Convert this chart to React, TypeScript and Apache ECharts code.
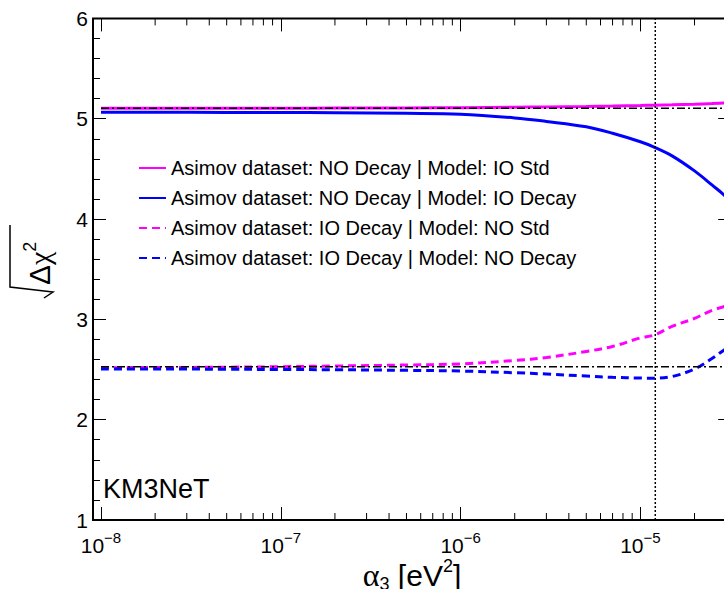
import React, { useEffect, useRef } from 'react';
import * as echarts from 'echarts';

// ---- data ----
const alpha = [1e-8, 2e-8, 5e-8, 1e-7, 2e-7, 5e-7, 1e-6, 2e-6, 3e-6, 5e-6, 7e-6, 1e-5, 1.2e-5, 1.5e-5, 2e-5, 2.5e-5, 3e-5, 3.5e-5];
const noDecayIoStd = [5.104, 5.104, 5.105, 5.105, 5.106, 5.108, 5.110, 5.115, 5.118, 5.123, 5.127, 5.132, 5.135, 5.139, 5.145, 5.151, 5.157, 5.162];
const noDecayIoDecay = [5.064, 5.064, 5.063, 5.062, 5.060, 5.054, 5.045, 5.008, 4.973, 4.92, 4.855, 4.77, 4.715, 4.63, 4.48, 4.34, 4.22, 4.08];
const ioDecayNoStd = [2.518, 2.52, 2.523, 2.528, 2.535, 2.545, 2.556, 2.59, 2.62, 2.68, 2.73, 2.815, 2.845, 2.93, 3.01, 3.09, 3.135, 3.19];
const ioDecayNoDecay = [2.505, 2.505, 2.503, 2.5, 2.498, 2.492, 2.485, 2.468, 2.455, 2.435, 2.422, 2.415, 2.414, 2.43, 2.505, 2.61, 2.71, 2.8];
const seriesNames = [
  'Asimov dataset: NO Decay | Model: IO Std',
  'Asimov dataset: NO Decay | Model: IO Decay',
  'Asimov dataset: IO Decay | Model: NO Std',
  'Asimov dataset: IO Decay | Model: NO Decay',
];
const refLevels = [5.104, 2.527];
const alphaMarker = 1.21e-5;
const xRange = [1e-8, 1e-4];
const yRange = [1, 6];
const xLabelledDecades = [-8, -7, -6, -5];
const xMantissas = [2, 3, 4, 5, 6, 7, 8, 9];
const minorXTicks = xLabelledDecades.flatMap((d) => xMantissas.map((m) => m * Math.pow(10, d)));

const SANS = 'Liberation Sans, Arial, Helvetica, sans-serif';
const SERIF = 'Liberation Serif, Times New Roman, serif';

const zip = (xs: number[], ys: number[]) => xs.map((x, i) => [x, ys[i]]);

export default function App() {
  const ref = useRef<HTMLDivElement>(null);
  useEffect(() => {
    if (!ref.current) return;
    const chart = echarts.init(ref.current, undefined, { renderer: 'svg' });
    const magenta = '#ff00ff';
    const blue = '#0000ff';
    const tickStyle = { color: '#000', width: 1 };
    const curve = (name: string, ys: number[], color: string, dashed: boolean) => ({
      name,
      type: 'line',
      data: zip(alpha, ys),
      symbol: 'none',
      smooth: 0.35,
      xAxisIndex: 0,
      yAxisIndex: 0,
      lineStyle: { color, width: 3, type: dashed ? [8, 5] : 'solid', cap: 'butt' },
      itemStyle: { color },
      z: 3,
    });
    const option: any = {
      animation: false,
      backgroundColor: '#fff',
      grid: { left: 101, top: 18.4, width: 719.2, height: 501.6, containLabel: false, outerBoundsMode: 'none' },
      xAxis: [
        {
          type: 'log', logBase: 10, min: xRange[0], max: xRange[1], position: 'bottom',
          axisLine: { show: false },
          axisTick: { show: true, inside: true, length: 13, lineStyle: tickStyle },
          minorTick: { show: false },
          splitLine: { show: false },
          axisLabel: {
            margin: 10,
            color: '#000',
            formatter: (v: number) => {
              const e = Math.round(Math.log10(v));
              if (xLabelledDecades.indexOf(e) < 0) return '';
              return '{b|10}{e|' + (e < 0 ? '\u2212' + -e : '' + e) + '}';
            },
            rich: {
              b: { fontSize: 21, fontFamily: SANS, color: '#000', lineHeight: 26, verticalAlign: 'bottom' },
              e: { fontSize: 15, fontFamily: SANS, color: '#000', lineHeight: 12, verticalAlign: 'top' },
            },
          },
        },
        {
          type: 'log', logBase: 10, min: xRange[0], max: xRange[1], position: 'top',
          axisLine: { show: false },
          axisTick: { show: true, inside: true, length: 13, lineStyle: tickStyle },
          axisLabel: { show: false },
          splitLine: { show: false },
        },
      ],
      yAxis: [
        {
          type: 'value', min: yRange[0], max: yRange[1], interval: 1, position: 'left', offset: 8,
          axisLine: { show: false },
          axisTick: { show: true, inside: true, length: 13, lineStyle: tickStyle },
          minorTick: { show: true, splitNumber: 5, length: 7, lineStyle: tickStyle },
          splitLine: { show: false },
          axisLabel: { margin: 5, fontSize: 21, fontFamily: SANS, color: '#000' },
        },
        {
          type: 'value', min: yRange[0], max: yRange[1], interval: 1, position: 'right', offset: -89,
          axisLine: { show: false },
          axisTick: { show: true, inside: true, length: 13, lineStyle: tickStyle },
          minorTick: { show: true, splitNumber: 5, length: 7, lineStyle: tickStyle },
          splitLine: { show: false },
          axisLabel: { show: false },
        },
      ],
      legend: {
        data: seriesNames,
        orient: 'vertical',
        left: 138,
        top: 158,
        padding: 0,
        itemWidth: 27,
        itemHeight: 14,
        itemGap: 10,
        selectedMode: false,
        itemStyle: { opacity: 0, borderWidth: 0 },
        textStyle: { fontSize: 20, fontFamily: SANS, color: '#000', lineHeight: 20 },
      },
      series: [
        {
          type: 'custom',
          xAxisIndex: 0,
          yAxisIndex: 0,
          silent: true,
          clip: false,
          data: minorXTicks.map((v) => [v, yRange[0]]),
          renderItem: (_p: any, api: any) => {
            const x = api.value(0);
            const b = api.coord([x, yRange[0]]);
            const t = api.coord([x, yRange[1]]);
            return {
              type: 'group',
              children: [
                { type: 'line', shape: { x1: b[0], y1: b[1], x2: b[0], y2: b[1] - 7 }, style: { stroke: '#000', lineWidth: 1 } },
                { type: 'line', shape: { x1: t[0], y1: t[1], x2: t[0], y2: t[1] + 7 }, style: { stroke: '#000', lineWidth: 1 } },
              ],
            };
          },
          z: 5,
        },
        curve(seriesNames[0], noDecayIoStd, magenta, false),
        curve(seriesNames[1], noDecayIoDecay, blue, false),
        curve(seriesNames[2], ioDecayNoStd, magenta, true),
        curve(seriesNames[3], ioDecayNoDecay, blue, true),
        ...refLevels.map((lv) => ({
          type: 'line',
          data: [[xRange[0], lv], [xRange[1], lv]],
          symbol: 'none',
          silent: true,
          lineStyle: { color: '#000', width: 1.5, type: [8, 3, 2, 3] },
          z: 4,
        })),
        {
          type: 'line',
          data: [[alphaMarker, yRange[0]], [alphaMarker, yRange[1]]],
          symbol: 'none',
          silent: true,
          lineStyle: { color: '#000', width: 1.5, type: [2, 2] },
          z: 4,
        },
      ],
      graphic: [
        {
          type: 'rect',
          shape: { x: 93, y: 18.4, width: 638, height: 501.6 },
          style: { fill: 'none', stroke: '#000', lineWidth: 2 },
          z: 100,
          silent: true,
        },
        {
          type: 'text',
          x: 103,
          y: 489,
          z: 100,
          style: { text: 'KM3NeT', fontSize: 27, fontFamily: SANS, fill: '#000', verticalAlign: 'middle', align: 'left' },
        },
        {
          type: 'text',
          x: 412,
          y: 557,
          z: 100,
          style: {
            text: '{a|\u03b1}{s|3}{n| [eV}{p|2}{n|]}',
            align: 'center',
            verticalAlign: 'top',
            fill: '#000',
            rich: {
              a: { fontSize: 32, fontFamily: SERIF, lineHeight: 36, verticalAlign: 'middle', fill: '#000' },
              s: { fontSize: 18, fontFamily: SANS, lineHeight: 18, verticalAlign: 'bottom', fill: '#000' },
              n: { fontSize: 30, fontFamily: SANS, lineHeight: 36, verticalAlign: 'middle', fill: '#000' },
              p: { fontSize: 18, fontFamily: SANS, lineHeight: 18, verticalAlign: 'top', fill: '#000' },
            },
          },
        },
        {
          type: 'text',
          x: 39,
          y: 285,
          rotation: Math.PI / 2,
          z: 100,
          style: {
            text: '{d|\u0394}{c|\u03c7}{s|2}',
            align: 'left',
            verticalAlign: 'middle',
            fill: '#000',
            rich: {
              d: { fontSize: 30, fontFamily: SANS, lineHeight: 36, verticalAlign: 'middle', fill: '#000' },
              c: { fontSize: 30, fontFamily: SERIF, lineHeight: 36, verticalAlign: 'middle', fill: '#000' },
              s: { fontSize: 18, fontFamily: SANS, lineHeight: 18, verticalAlign: 'top', fill: '#000' },
            },
          },
        },
        {
          type: 'polyline',
          z: 100,
          shape: { points: [[10, 225], [10, 287], [53, 292], [44, 298]] },
          style: { stroke: '#000', lineWidth: 1.5, fill: 'none' },
        },
      ],
    };
    chart.setOption(option);
    return () => chart.dispose();
  }, []);
  return (
    <div style={{ position: 'fixed', left: 0, top: 0, width: 724, height: 589, overflow: 'hidden', background: '#fff' }}>
      <div ref={ref} style={{ width: 840, height: 589 }} />
    </div>
  );
}
